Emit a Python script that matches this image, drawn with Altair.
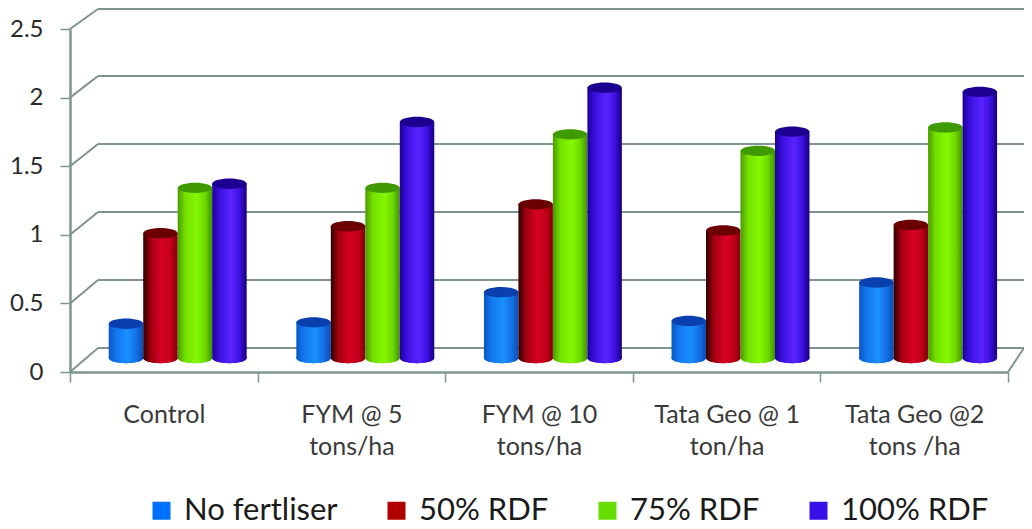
import altair as alt
import pandas as pd

categories = ["Control", "FYM @ 5|tons/ha", "FYM @ 10|tons/ha", "Tata Geo @ 1|ton/ha", "Tata Geo @2|tons /ha"]
series = ["No fertliser", "50% RDF", "75% RDF", "100% RDF"]
no_fert = [0.25, 0.26, 0.48, 0.27, 0.55]
rdf_50 = [0.91, 0.96, 1.12, 0.93, 0.97]
rdf_75 = [1.24, 1.24, 1.63, 1.51, 1.68]
rdf_100 = [1.27, 1.72, 1.97, 1.65, 1.94]
wall_ticks = [0, 0.5, 1, 1.5, 2, 2.5]
wall_back = [0.175, 0.67, 1.166, 1.662, 2.157, 2.646]

legend_colors = ["#0070ff", "#b00000", "#66dd00", "#3a10e8"]
top_colors = ["#0a3fb0", "#6b0000", "#3f9a00", "#1c0090"]
ramps = [
    ["#0a55c8", "#1478ee", "#1a90ff", "#1470e4", "#0a4cb8"],
    ["#2c0000", "#a00010", "#d80024", "#c00018", "#800008"],
    ["#4a9a00", "#74e000", "#84f800", "#6cd800", "#409000"],
    ["#1c0098", "#3c10e0", "#5a24ff", "#3c10e0", "#16007c"],
]
stops_at = [0, 0.22, 0.55, 0.8, 1]

rows = []
for s, vals in zip(series, [no_fert, rdf_50, rdf_75, rdf_100]):
    for c, v in zip(categories, vals):
        rows.append({"cat": c, "series": s, "v": v, "base": 0})
df = pd.DataFrame(rows)

W, H = 938, 343
RIGHT = 16
DEPTH_X = 28
BAR_LIFT = -14
FONT = "Lato"

x_enc = alt.X(
    "cat:N", sort=categories, title=None,
    scale=alt.Scale(domain=categories, paddingInner=0, paddingOuter=0),
    axis=alt.Axis(
        labelExpr="split(datum.label, '|')", labelAngle=0, labelFont=FONT, labelFontSize=25,
        labelColor="#3a3a3a", labelLineHeight=32, labelPadding=20, labelBaseline="top",
        tickBand="extent", tickSize=10, tickColor="#7f9490", tickWidth=1.5,
        domainColor="#7f9490", domainWidth=2.5, labelLimit=300,
    ),
)
y_scale = alt.Scale(domain=[0, 2.5], nice=False)
y_axis = alt.Axis(
    values=wall_ticks, grid=False, labelFont=FONT, labelFontSize=24, labelColor="#2a2a2a",
    labelPadding=17, tickSize=10, tickColor="#7f9490", tickWidth=1.5,
    domainColor="#7f9490", domainWidth=2.5,
    labelExpr="format(datum.value, '.1~f')",
)
y_enc = alt.Y("v:Q", title=None, scale=y_scale, axis=y_axis)
y_back = alt.Y("back:Q", title=None, scale=y_scale, axis=y_axis)
y_base = alt.Y("base:Q", title=None, scale=y_scale, axis=y_axis)
xo = alt.XOffset(
    "series:N", sort=series,
    scale=alt.Scale(domain=series, paddingInner=0, paddingOuter=0.72, align=0.78),
)
ELLIPSE = "M-1,0A1,0.3 0 1,1 1,0A1,0.3 0 1,1 -1,0Z"
ELLIPSE_SIZE = 34.5 ** 2

wall = pd.DataFrame({"v": wall_ticks, "back": wall_back})
back_lines = alt.Chart(wall).mark_rule(color="#7f9490", strokeWidth=2).encode(
    y=y_back, x=alt.value(DEPTH_X), x2=alt.value(W + RIGHT),
)
left_diag = alt.Chart(wall).mark_rule(color="#7f9490", strokeWidth=2).encode(
    y=y_enc, y2="back:Q", x=alt.value(0), x2=alt.value(DEPTH_X),
)
right_diag = alt.Chart(wall[wall.v == 0]).mark_rule(color="#7f9490", strokeWidth=2).encode(
    y=y_enc, y2="back:Q", x=alt.value(W), x2=alt.value(W + RIGHT),
)

bases = alt.Chart(df).mark_point(
    shape=ELLIPSE, filled=True, size=ELLIPSE_SIZE, opacity=1, yOffset=BAR_LIFT
).encode(
    x=x_enc, xOffset=xo, y=y_base,
    color=alt.Color(
        "series:N", sort=series, title=None,
        scale=alt.Scale(domain=series, range=legend_colors),
        legend=alt.Legend(
            orient="none", legendX=76, legendY=466, direction="horizontal", columns=4,
            symbolType="square", symbolSize=324, symbolOpacity=1, symbolStrokeWidth=0,
            labelFont=FONT, labelFontSize=31, labelColor="#1a1a1a", labelOffset=7,
            columnPadding=43, labelLimit=300,
        ),
    ),
)

layers = [back_lines, left_diag, right_diag, bases]
for s, ramp, top in zip(series, ramps, top_colors):
    sub = df[df.series == s]
    grad = alt.LinearGradient(
        gradient="linear", x1=0, x2=1, y1=0, y2=0,
        stops=[alt.GradientStop(offset=o, color=c) for o, c in zip(stops_at, ramp)],
    )
    layers.append(
        alt.Chart(sub).mark_point(
            shape=ELLIPSE, filled=True, size=ELLIPSE_SIZE, opacity=1, color=grad, yOffset=BAR_LIFT
        ).encode(x=x_enc, xOffset=xo, y=y_base)
    )
    layers.append(
        alt.Chart(sub).mark_bar(color=grad, yOffset=BAR_LIFT, y2Offset=BAR_LIFT).encode(
            x=x_enc, xOffset=xo, y=y_enc, y2="base:Q"
        )
    )
    layers.append(
        alt.Chart(sub).mark_point(
            shape=ELLIPSE, filled=True, size=ELLIPSE_SIZE, opacity=1, color=top, yOffset=BAR_LIFT
        ).encode(x=x_enc, xOffset=xo, y=y_enc)
    )

chart = alt.layer(*layers).properties(
    width=W, height=H,
    padding={"left": 62, "top": 21, "right": RIGHT, "bottom": 157},
    autosize=alt.AutoSizeParams(type="none"),
    background="white",
).configure_view(stroke=None)

chart.save("out.html", embed_options={"renderer": "svg", "actions": False})
